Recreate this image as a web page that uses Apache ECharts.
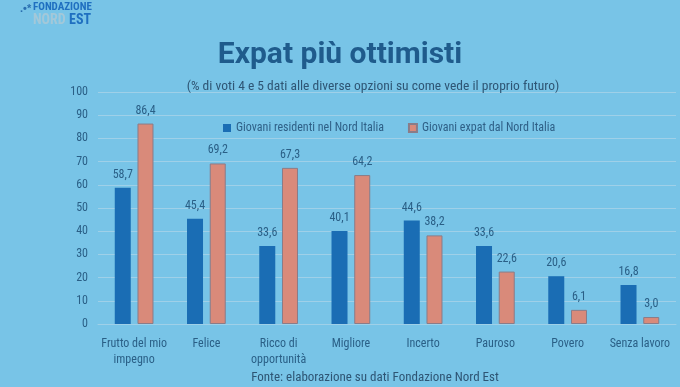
<!DOCTYPE html>
<html><head><meta charset="utf-8">
<script src="https://cdn.jsdelivr.net/npm/echarts@6/dist/echarts.min.js"></script>
<style>html,body{margin:0;padding:0;background:#78c4e7;}#c{width:680px;height:387px;}</style>
</head><body><div id="c"></div>
<script>
const categories = ['Frutto del mio\nimpegno','Felice','Ricco di\nopportunità','Migliore','Incerto','Pauroso','Povero','Senza lavoro'];
const residenti = [58.7,45.4,33.6,40.1,44.6,33.6,20.6,16.8];
const expat = [86.4,69.2,67.3,64.2,38.2,22.6,6.1,3.0];
const seriesNames = ['Giovani residenti nel Nord Italia','Giovani expat dal Nord Italia'];
const FONT = "'Liberation Sans Narrow','Roboto Condensed',Roboto,sans-serif";
const chart = echarts.init(document.getElementById('c'));
const fmt = p => p.value.toFixed(1).replace('.', ',');
chart.setOption({
  backgroundColor: '#78c4e7',
  textStyle: {fontFamily: FONT},
  title: [
    {text: 'Expat più ottimisti', left: 'center', top: 35, textStyle: {fontFamily: "Roboto,'Noto Sans',sans-serif", fontSize: 30, fontWeight: 'bold', color: '#1f5b8c'}},
    {text: '(% di voti 4 e 5 dati alle diverse opzioni su come vede il proprio futuro)', left: 368, textAlign: 'center', top: 75, textStyle: {fontFamily: FONT, fontSize: 13.5, fontWeight: 'normal', color: '#2e5574'}},
    {text: 'Fonte: elaborazione su dati Fondazione Nord Est', left: 370, textAlign: 'center', top: 366, textStyle: {fontFamily: FONT, fontSize: 13, fontWeight: 'normal', color: '#2e5574'}}
  ],
  graphic: [
    {type: 'text', left: 20, top: 3, style: {text: '.•*', fill: '#2a6fb0', font: 'bold 11px sans-serif'}},
    {type: 'text', left: 33, top: 2, style: {text: 'FONDAZIONE', fill: '#1f6fc0', font: 'bold 11px ' + FONT}},
    {type: 'text', left: 33, top: 13, style: {rich: {a: {fill: '#a3c8d9', fontSize: 14, fontWeight: 'bold', fontFamily: FONT}, b: {fill: '#1f6fc0', fontSize: 14, fontWeight: 'bold', fontFamily: FONT}}, text: '{a|NORD} {b|EST}'}}
  ],
  legend: {
    top: 117, left: 218, itemGap: 24, itemWidth: 8, itemHeight: 8, icon: 'rect',
    textStyle: {fontFamily: FONT, fontSize: 12, color: '#2e5f86'},
    data: seriesNames
  },
  grid: {left: 98, right: 4, top: 92, bottom: 63},
  xAxis: {
    type: 'category', data: categories,
    axisLine: {show: true, lineStyle: {color: '#9fd0e8'}},
    axisTick: {show: false},
    axisLabel: {interval: 0, fontFamily: FONT, fontSize: 12, color: '#2a5f86', margin: 12, lineHeight: 16}
  },
  yAxis: {
    type: 'value', min: 0, max: 100, interval: 10,
    axisLine: {show: false}, axisTick: {show: false},
    axisLabel: {fontFamily: FONT, fontSize: 12, color: '#2a5f86', margin: 10},
    splitLine: {lineStyle: {color: '#9fd0e8', width: 1}}
  },
  series: [
    {name: seriesNames[0], type: 'bar', data: residenti, barWidth: 16, barGap: '42%',
     itemStyle: {color: '#1a6db4'},
     label: {show: true, position: 'top', distance: 7, formatter: fmt, fontFamily: FONT, fontSize: 12, color: '#2a5f86'}},
    {name: seriesNames[1], type: 'bar', data: expat, barWidth: 16,
     itemStyle: {color: '#d98a7a', borderColor: '#8a7c88', borderWidth: 1},
     label: {show: true, position: 'top', distance: 7, formatter: fmt, fontFamily: FONT, fontSize: 12, color: '#2a5f86'}}
  ]
});
</script></body></html>
